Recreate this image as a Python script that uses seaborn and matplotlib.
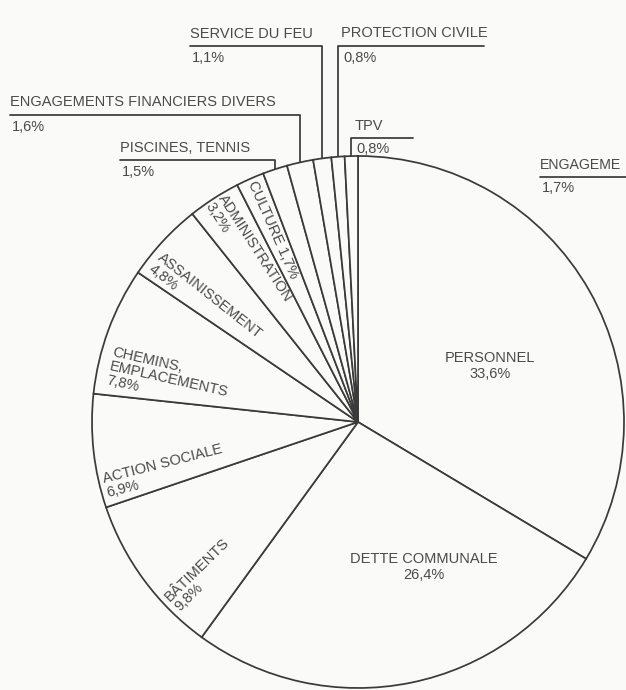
import numpy as np
import matplotlib
matplotlib.use("Agg")
import matplotlib.pyplot as plt
import seaborn as sns

# ---- data (clockwise from 12 o'clock) ----
categories = ["PERSONNEL", "DETTE COMMUNALE", "BÂTIMENTS", "ACTION SOCIALE",
              "CHEMINS,\nEMPLACEMENTS", "ASSAINISSEMENT", "ADMINISTRATION",
              "CULTURE", "PISCINES, TENNIS", "ENGAGEMENTS FINANCIERS DIVERS",
              "SERVICE DU FEU", "PROTECTION CIVILE", "TPV"]
values = [33.6, 26.4, 9.8, 6.9, 7.8, 4.8, 3.2, 1.7, 1.5, 1.6, 1.1, 0.8, 0.8]
pct_labels = ["33,6%", "26,4%", "9,8%", "6,9%", "7,8%", "4,8%", "3,2%",
              "1,7%", "1,5%", "1,6%", "1,1%", "0,8%", "0,8%"]
# cropped label of a neighbouring chart at the right edge (as visible)
extra_category = "ENGAGEME"
extra_pct = "1,7%"

sns.set_theme(style="white")
plt.rcParams['font.family'] = ['Liberation Sans', 'DejaVu Sans']

W, H = 626, 690
BG = '#fafaf8'
INK = '#3a3a3a'
TXT = '#4a4a4a'
FS = 10.5
CX, CY, R = 358, 422, 266   # pixel geometry (y down)


def Y(y):
    return H - y


fig = plt.figure(figsize=(W / 100, H / 100), dpi=100, facecolor=BG)
ax = fig.add_axes([0, 0, 1, 1])
ax.set_facecolor(BG)

wedges, _ = ax.pie(values, startangle=90, counterclock=False, radius=R,
                   center=(CX, Y(CY)), colors=[BG] * len(values),
                   wedgeprops=dict(edgecolor=INK, linewidth=1.25))
ax.set_xlim(0, W)
ax.set_ylim(0, H)
ax.set_aspect('equal')
ax.axis('off')

# ---- inner labels: (radius fraction, clockwise angle offset, rotate) ----
inner_style = {
    0: (0.54, 6.5, False),
    1: (0.60, -13, False),
    2: (0.82, -8, True),
    3: (0.75, -8, True),
    4: (0.73, -7.5, True),
    5: (0.73, -4.5, True),
    6: (0.76, 0, True),
    7: (0.79, 0, True),
}
for i, (rf, off, rot) in inner_style.items():
    w = wedges[i]
    phi = (w.theta1 + w.theta2) / 2 - off
    x = CX + rf * R * np.cos(np.radians(phi))
    y = Y(CY) + rf * R * np.sin(np.radians(phi))
    if i == 7:
        txt = categories[i] + " " + pct_labels[i]
    else:
        txt = categories[i] + "\n" + pct_labels[i]
    if rot:
        angle = (phi - 180 + 180) % 360 - 180
        ax.text(x, y, txt, rotation=angle, rotation_mode='anchor',
                ha='center', va='center', multialignment='left',
                fontsize=FS, color=TXT, linespacing=1.05)
    else:
        ax.text(x, y, txt, ha='center', va='center', multialignment='center',
                fontsize=FS, color=TXT, linespacing=1.15)

# ---- outer labels with leader lines ----
# index: (text x, text y, underline y, pct y, side, underline end for right side)
outer_style = {
    8: (120, 148, 160, 172, 'left', None),
    9: (10, 102, 115, 127, 'left', None),
    10: (190, 34, 46, 58, 'left', None),
    11: (None, 33, 46, 58, 'right', 484),
    12: (None, 126, 138, 149, 'right', 413),
}
for i, (tx, ty, uy, py, side, uend) in outer_style.items():
    w = wedges[i]
    phi = (w.theta1 + w.theta2) / 2
    ax_x = CX + R * np.cos(np.radians(phi))
    ax_y = Y(CY) + R * np.sin(np.radians(phi))
    ax.plot([ax_x, ax_x], [ax_y, Y(uy)], color=INK, lw=1.25,
            solid_capstyle='butt')
    if side == 'left':
        ax.plot([tx, ax_x], [Y(uy), Y(uy)], color=INK, lw=1.25)
        lx = tx
    else:
        ax.plot([ax_x, uend], [Y(uy), Y(uy)], color=INK, lw=1.25)
        lx = ax_x + 3
    ax.text(lx, Y(ty), categories[i], ha='left', va='center',
            fontsize=FS, color=TXT)
    ax.text(lx + 2, Y(py), pct_labels[i], ha='left', va='center',
            fontsize=FS, color=TXT)

# cropped neighbour label
ax.plot([540, W + 10], [Y(177), Y(177)], color=INK, lw=1.25, clip_on=False)
ax.text(540, Y(165), extra_category, ha='left', va='center',
        fontsize=FS - 0.3, color=TXT)
ax.text(542, Y(188), extra_pct, ha='left', va='center',
        fontsize=FS, color=TXT)

fig.savefig("out.png", dpi=100, facecolor=BG)
